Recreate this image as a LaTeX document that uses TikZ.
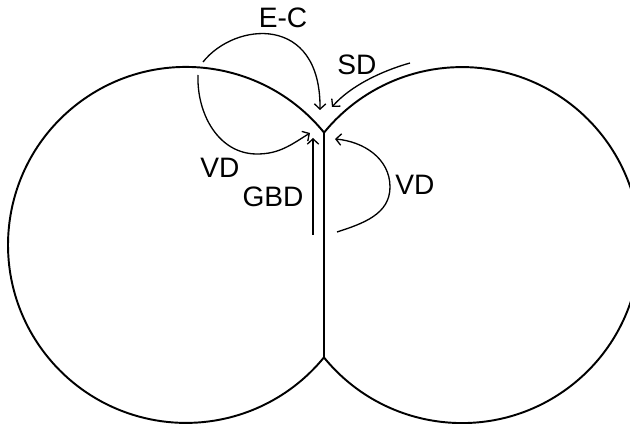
\documentclass[tikz,border=0pt]{standalone}
\usepackage{fontspec}
\setmainfont{Liberation Sans}
\usetikzlibrary{arrows.meta}

\tikzset{
    grain/.style = {color = black, line width = 1.1pt},
    flux/.style = {-{Straight Barb[length = 3pt, width = 6.5pt]}, color = black, line width = 0.75pt},
    lbl/.style = {font = \fontsize{16}{18}\selectfont, inner sep = 0pt}
}

\begin{document}
\begin{tikzpicture}
        \clip (0, 0) rectangle (12.6, 8.48);
        % the two grains and the grain boundary
        \coordinate (neckTop) at (6.48, 5.83);
        \coordinate (neckBot) at (6.48, 1.33);
        \draw[grain] (neckTop) arc[start angle = 39.17, end angle = 320.83, radius = 3.56] -- cycle;
        \draw[grain] (neckBot) arc[start angle = -140.83, end angle = 140.83, radius = 3.56] -- cycle;
        % transport paths
        \coordinate (ecA) at (4.06, 7.24);
        \coordinate (ecB) at (6.40, 6.28);
        \draw[flux] (ecA) .. controls (4.7, 8.05) and (6.42, 8.2) .. (ecB);
        \coordinate (sdA) at (8.20, 7.22);
        \coordinate (sdB) at (6.64, 6.34);
        \draw[flux] (sdA) .. controls (7.6, 7.05) and (7.0, 6.75) .. (sdB);
        \coordinate (vdA) at (3.96, 6.98);
        \coordinate (vdM) at (5.14, 5.40);
        \coordinate (vdB) at (6.20, 5.82);
        \draw[flux] (vdA) to[out = -92, in = 180] (vdM) to[out = 0, in = 212] (vdB);
        \coordinate (gbA) at (6.26, 3.78);
        \coordinate (gbB) at (6.26, 5.72);
        \draw[flux] (gbA) -- (gbB);
        \coordinate (vrA) at (6.74, 3.84);
        \coordinate (vrM) at (7.80, 4.74);
        \coordinate (vrB) at (6.70, 5.70);
        \draw[flux] (vrA) to[out = 18, in = -90] (vrM) to[out = 90, in = -5] (vrB);
        % labels
        \node[lbl] (ec) at (5.66, 8.12) {E-C};
        \node[lbl] (sd) at (7.14, 7.18) {SD};
        \node[lbl] (vdl) at (4.40, 5.12) {VD};
        \node[lbl] (gbd) at (5.46, 4.54) {GBD};
        \node[lbl] (vdr) at (8.30, 4.78) {VD};
    \end{tikzpicture}
\end{document}
